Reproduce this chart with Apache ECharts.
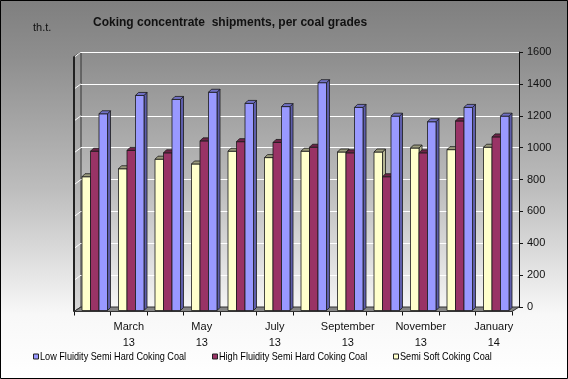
<!DOCTYPE html>
<html><head><meta charset="utf-8">
<script src="https://cdn.jsdelivr.net/npm/echarts@6/dist/echarts.min.js"></script>
<style>html,body{margin:0;padding:0;background:#fff}#c{width:568px;height:379px}</style>
</head><body><div id="c"></div>
<script>
const categories = ['February\n13','March\n13','April\n13','May\n13','June\n13','July\n13','August\n13','September\n13','October\n13','November\n13','December\n13','January\n14'];
const lowFluidity  = [1225,1340,1315,1360,1290,1270,1420,1265,1210,1175,1265,1210];
const highFluidity = [990,995,980,1055,1050,1045,1015,980,830,980,1180,1080];
const semiSoft     = [830,880,940,910,990,950,990,985,985,1010,1000,1015];
const yTicks = [0,200,400,600,800,1000,1200,1400,1600];
const names = ['Low Fluidity Semi Hard Coking Coal','High Fluidity Semi Hard Coking Coal','Semi Soft Coking Coal'];

// geometry (back wall / front plane)
const BX0=81, BX1=519, BY0=52, BY1=307;
const FX0=74, FX1=512, FY1=311.5;
const W=568, H=379;
const BAR_W=8.5, SHIFT_X=-4.5, DY=2, D=3;

const chart = echarts.init(document.getElementById('c'), null, {renderer:'canvas'});

function render(slot, colors){
  return function(params, api){
    const i = api.value(0), v = api.value(1);
    const base = api.coord([i,0]);
    const top = api.coord([i,v]);
    const cx = base[0] + SHIFT_X;
    const x = cx + (slot-1.5)*BAR_W;
    const w = BAR_W;
    const yt = top[1] + DY, yb = base[1] + 3.5;
    const st = {stroke:'#1a1a1a', lineWidth:0.8};
    return {type:'group', children:[
      {type:'polygon', shape:{points:[[x+w,yt],[x+w+D,yt-D],[x+w+D,yb-D],[x+w,yb]]}, style:Object.assign({fill:colors[2]},st)},
      {type:'rect', shape:{x:x,y:yt,width:w,height:yb-yt}, style:Object.assign({fill:colors[0]},st)},
      {type:'polygon', shape:{points:[[x,yt],[x+D,yt-D],[x+w+D,yt-D],[x+w,yt]]}, style:Object.assign({fill:colors[1]},st)}
    ]};
  };
}

const palette = {
  low:['#9999FF','#7070c4','#5e5eab'],
  high:['#993366','#6c2448','#6e264a'],
  semi:['#FFFFCC','#9a9a7c','#b5b593']
};

const toData = arr => arr.map((v,i)=>[i,v]);

const graphics = [
  {type:'rect', shape:{x:0.5,y:0.5,width:W-1,height:H-1}, style:{fill:'none',stroke:'#000',lineWidth:1}, z:100},
  {type:'polygon', shape:{points:[[FX0,BY0+4.5],[BX0,BY0],[BX0,BY1],[FX0,FY1]]}, style:{fill:'rgba(160,160,160,0.35)',stroke:'#333',lineWidth:1}, z:0},
  {type:'line', shape:{x1:FX0,y1:BY0+4.5,x2:FX0,y2:FY1}, style:{stroke:'#222',lineWidth:2}, z:1},
  {type:'polygon', shape:{points:[[FX0,FY1],[BX0,BY1],[BX1,BY1],[FX1,FY1]]}, style:{fill:'#858585',stroke:'#333',lineWidth:1}, z:1}
];
yTicks.forEach(t=>{
  if(t===0) return;
  const y = BY1 - (t/1600)*(BY1-BY0);
  graphics.push({type:'line', shape:{x1:FX0+1,y1:y+4.5,x2:BX0,y2:y}, style:{stroke:'#fff',lineWidth:1}, z:1});
});

// legend (condensed text like the reference)
const legendItems = [
  {name:names[0], color:palette.low[0], x:33},
  {name:names[1], color:palette.high[0], x:212},
  {name:names[2], color:palette.semi[0], x:393}
];
const LEG_Y = 357;
legendItems.forEach(it=>{
  graphics.push({type:'rect', shape:{x:it.x+0.5, y:LEG_Y-3, width:5, height:5}, style:{fill:it.color, stroke:'#222', lineWidth:1}, z:10});
  graphics.push({type:'text', x:it.x+7, y:LEG_Y, scaleX:0.83, style:{text:it.name, fill:'#000', font:'11px "Liberation Sans", Arial, sans-serif', verticalAlign:'middle', align:'left'}, z:10});
});

chart.setOption({
  animation:false,
  backgroundColor:{type:'linear',x:0,y:0,x2:0,y2:1,colorStops:[
    {offset:0,color:'#7f7f7f'},{offset:0.15,color:'#8e8e8e'},{offset:0.5,color:'#bdbdbd'},{offset:0.83,color:'#f8f8f8'},{offset:1,color:'#ffffff'}]},
  textStyle:{fontFamily:'Liberation Sans, Arial'},
  title:[
    {text:'Coking concentrate  shipments, per coal grades', left:88, top:12, textStyle:{fontSize:12, fontWeight:'bold', color:'#111', fontFamily:'Liberation Sans, Arial'}},
    {text:'th.t.', left:28, top:17, textStyle:{fontSize:11, fontWeight:'normal', color:'#111', fontFamily:'Liberation Sans, Arial'}}
  ],
  graphic:graphics,
  grid:[
    {left:BX0, right:W-BX1, top:BY0, bottom:H-BY1},
    {left:FX0, right:W-FX1, top:BY0+4.5, bottom:H-FY1}
  ],
  xAxis:[
    {type:'category', gridIndex:0, data:categories, boundaryGap:true, show:false},
    {type:'category', gridIndex:1, data:categories, boundaryGap:true, position:'bottom',
      axisLine:{show:true, lineStyle:{color:'#111', width:1}},
      axisTick:{show:true, interval:0, length:4, lineStyle:{color:'#111'}},
      axisLabel:{interval:(i)=>i%2===1, color:'#111', fontSize:11, lineHeight:16, margin:7, fontFamily:'Liberation Sans, Arial'},
      splitLine:{show:false}}
  ],
  yAxis:[
    {type:'value', gridIndex:0, position:'right', min:0, max:1600, interval:200,
      axisLine:{show:true, lineStyle:{color:'#111'}},
      axisTick:{show:true, length:4, lineStyle:{color:'#111'}},
      axisLabel:{color:'#111', fontSize:11, margin:8, fontFamily:'Liberation Sans, Arial', formatter:(v)=>String(v)},
      splitLine:{show:true, lineStyle:{color:'#ffffff', width:1}}},
    {type:'value', gridIndex:1, min:0, max:1600, show:false, splitLine:{show:false}}
  ],
  series:[
    {name:names[2], type:'custom', xAxisIndex:0, yAxisIndex:0, z:3, clip:false, itemStyle:{color:palette.semi[0]},
      renderItem:render(0,palette.semi), encode:{x:0,y:1}, data:toData(semiSoft)},
    {name:names[1], type:'custom', xAxisIndex:0, yAxisIndex:0, z:4, clip:false, itemStyle:{color:palette.high[0]},
      renderItem:render(1,palette.high), encode:{x:0,y:1}, data:toData(highFluidity)},
    {name:names[0], type:'custom', xAxisIndex:0, yAxisIndex:0, z:5, clip:false, itemStyle:{color:palette.low[0]},
      renderItem:render(2,palette.low), encode:{x:0,y:1}, data:toData(lowFluidity)}
  ]
});
</script></body></html>
